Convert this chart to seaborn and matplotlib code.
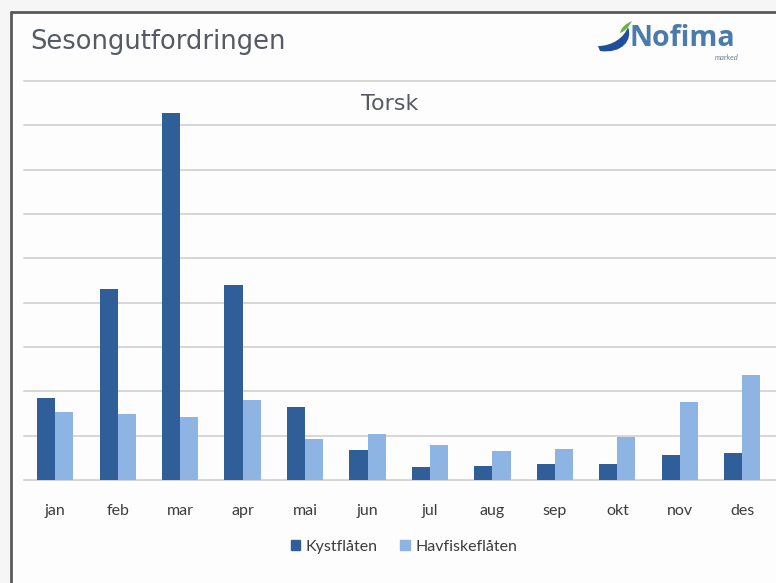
import matplotlib
matplotlib.use("Agg")
import matplotlib.pyplot as plt
from matplotlib.lines import Line2D
from matplotlib.path import Path
from matplotlib.patches import PathPatch, Rectangle
import pandas as pd
import seaborn as sns

# data (units = one gridline step)
months = ['jan', 'feb', 'mar', 'apr', 'mai', 'jun', 'jul', 'aug', 'sep', 'okt', 'nov', 'des']
kystflaten = [1.85, 4.30, 8.27, 4.40, 1.64, 0.68, 0.29, 0.32, 0.36, 0.37, 0.57, 0.62]
havfiskeflaten = [1.54, 1.49, 1.43, 1.80, 0.92, 1.04, 0.79, 0.66, 0.71, 0.98, 1.76, 2.36]
series = ['Kystflåten', 'Havfiskeflåten']
colors = {'Kystflåten': '#2f5e98', 'Havfiskeflåten': '#8db4e2'}

df = pd.DataFrame({
    'month': months * 2,
    'value': kystflaten + havfiskeflaten,
    'series': [series[0]] * len(months) + [series[1]] * len(months),
})

sns.set_theme(style='white')
plt.rcParams['font.family'] = ['Lato', 'DejaVu Sans']

W, H = 776, 583
fig = plt.figure(figsize=(W / 100, H / 100), dpi=100, facecolor='#f6f6f6')


def px_path(points, codes):
    # logo shapes are sketched in slide pixels, convert to figure coords
    return Path([(x / W, 1 - y / H) for x, y in points], codes)


# slide background and frame
fig.patches.append(Rectangle((11 / W, 0), 1, 1 - 12 / H, transform=fig.transFigure,
                             facecolor='#fdfdfd', edgecolor='none', zorder=-5))
fig.lines.append(Line2D([11 / W, 11 / W], [0, 1 - 12 / H], transform=fig.transFigure,
                        color='#5a5a5a', lw=2))
fig.lines.append(Line2D([11 / W, 1], [1 - 12 / H, 1 - 12 / H], transform=fig.transFigure,
                        color='#5a5a5a', lw=2))

ax = fig.add_axes([24 / W, 103 / H, 1 - 24 / W, (480 - 81) / H])
ax.set_facecolor('none')
sns.barplot(data=df, x='month', y='value', hue='series', palette=colors,
            width=0.58, gap=0, saturation=1, linewidth=0, ax=ax, legend=False)

ax.set_ylim(0, 9)
ax.set_xlim(-0.5, 11.54)
ax.set_yticks(range(0, 10))
ax.set_yticklabels([])
ax.yaxis.grid(True, color='#d6d6d6', lw=1.4)
ax.set_axisbelow(True)
for gl in ax.get_ygridlines():
    gl.set_clip_on(False)
for s in ax.spines.values():
    s.set_visible(False)
ax.set_xlabel('')
ax.set_ylabel('')
ax.tick_params(axis='x', length=0, pad=17, labelsize=11.5, labelcolor='#3c3c3c')
ax.tick_params(axis='y', length=0)

handles = [Rectangle((0, 0), 1, 1, color=colors[s]) for s in series]
fig.legend(handles, series, loc='center', bbox_to_anchor=(404 / W, 1 - 547 / H),
           ncol=2, frameon=False, fontsize=11.5, handlelength=0.6, handleheight=0.6,
           handletextpad=0.35, columnspacing=1.4, labelcolor='#3c3c3c')

# slide header
fig.text(30 / W, 1 - 42 / H, 'Sesongutfordringen', fontsize=18.5, color='#555a64',
         family=['DejaVu Sans'], ha='left', va='center')
fig.text(390 / W, 1 - 104 / H, 'Torsk', fontsize=16, color='#555a64',
         family=['DejaVu Sans'], ha='center', va='center')

# Nofima logo
fig.text(629 / W, 1 - 38 / H, 'Nofima', fontsize=20.5, fontweight='bold', color='#4b7bab',
         family=['Open Sans', 'DejaVu Sans'], ha='left', va='center')
fig.text(739 / W, 1 - 57 / H, 'marked', fontsize=5.5, color='#6a7f99', style='italic',
         ha='right', va='center')
C4 = Path.CURVE4
swoosh = px_path([(598, 46), (612, 46), (624, 38), (628, 27),
                  (633, 40), (622, 54), (600, 51), (598, 46)],
                 [Path.MOVETO, C4, C4, C4, C4, C4, C4, Path.LINETO])
fig.patches.append(PathPatch(swoosh, transform=fig.transFigure, facecolor='#1f4f99', edgecolor='none'))
leaf = px_path([(620, 33), (621, 28), (625, 24), (632, 21),
                (629, 26), (626, 31), (620, 33)],
               [Path.MOVETO, C4, C4, C4, C4, C4, C4])
fig.patches.append(PathPatch(leaf, transform=fig.transFigure, facecolor='#6db33f', edgecolor='none'))

fig.savefig('out.png', dpi=100, facecolor=fig.get_facecolor())
